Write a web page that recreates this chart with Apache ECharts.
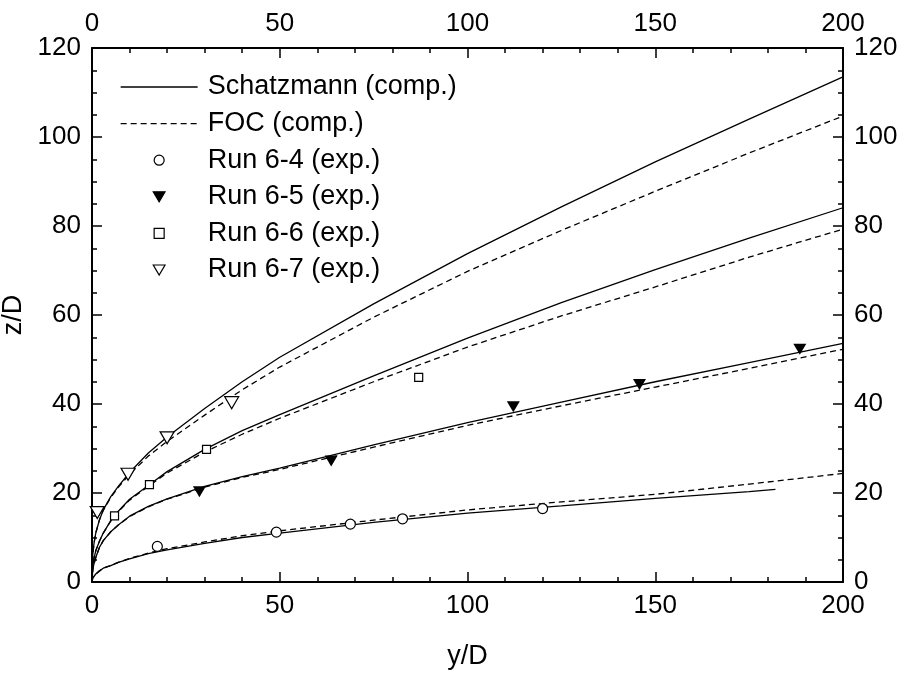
<!DOCTYPE html>
<html>
<head>
<meta charset="utf-8">
<script src="https://cdn.jsdelivr.net/npm/echarts@6/dist/echarts.min.js"></script>
<style>
html,body{margin:0;padding:0;background:#fff;}
#chart{width:906px;height:678px;}
</style>
</head>
<body>
<div id="chart"></div>
<script>
// x positions (y/D) where the computed curves were read
const curveX      = [0, 0.2, 0.5, 1, 2, 3, 5, 7, 10, 15, 20, 30, 40, 50, 75, 100, 125, 150, 175, 200];
const curveXShort = [0, 0.2, 0.5, 1, 2, 3, 5, 7, 10, 15, 20, 30, 40, 50, 75, 100, 125, 150, 175, 182];

// Schatzmann (comp.) curves, z/D
const schatz67 = [0, 6, 8.5, 11, 14, 16.2, 19.2, 21.5, 24.6, 29, 32.6, 39, 45, 50.5, 62.5, 73.8, 84.3, 94.4, 104, 113.5];
const schatz66 = [0, 3.7, 5.2, 7, 9.2, 11, 13.8, 15.9, 18.6, 21.7, 24.8, 29.8, 34, 37.6, 46.3, 54.8, 62.8, 70.2, 77.3, 84.1];
const schatz65 = [0, 2.8, 4, 5.5, 7.8, 9.3, 11.3, 12.8, 14.8, 17, 18.7, 21.5, 23.7, 25.6, 30.8, 35.8, 40.4, 45, 49.3, 53.6];
const schatz64 = [0, 0.9, 1.3, 1.8, 2.5, 3.1, 3.7, 4.4, 5.2, 6.4, 7.2, 8.7, 10, 11, 13.4, 15.5, 17.1, 18.8, 20.3, 20.8]; // uses curveXShort

// FOC (comp.) curves, z/D
const foc67 = [0, 6, 8.5, 11, 14, 16.1, 19, 21.3, 24.2, 28.3, 31.6, 37.5, 43.2, 48.3, 59.5, 69.8, 79, 87.8, 96.4, 104.7];
const foc66 = [0, 3.7, 5.2, 7, 9.2, 11, 13.7, 15.8, 18.4, 21.5, 24.5, 29.2, 33.2, 36.8, 45, 52.8, 59.8, 66.3, 73, 79.3];
const foc65 = [0, 2.8, 4, 5.5, 7.8, 9.3, 11.3, 12.8, 14.7, 16.9, 18.6, 21.3, 23.5, 25.3, 30.3, 35.2, 39.6, 43.8, 48, 52.3];
const foc64 = [0, 0.9, 1.3, 1.8, 2.5, 3.1, 3.7, 4.4, 5.3, 6.5, 7.5, 9, 10.4, 11.5, 13.9, 16.2, 18, 19.7, 22, 24.4];

// Experimental points
const run64X = [17.4, 49.1, 68.8, 82.7, 120.0];
const run64Y = [8.0, 11.2, 13.0, 14.2, 16.5];
const run65X = [28.6, 63.7, 112.2, 145.8, 188.5];
const run65Y = [20.3, 27.2, 39.4, 44.4, 52.3];
const run66X = [6.0, 15.3, 30.5, 87.0];
const run66Y = [14.85, 21.9, 29.8, 46.0];
const run67X = [1.4, 9.6, 20.0, 37.2];
const run67Y = [15.6, 24.2, 32.4, 40.3];

// Axis ticks
const xTicks = { min: 0, max: 200, interval: 50 };
const yTicks = { min: 0, max: 120, interval: 20 };

const FONT = "'Liberation Sans', Arial, sans-serif";
const pairs = (xs, ys) => xs.map((x, i) => [x, ys[i]]);
const downTri = 'path://M0,0L20,0L10,17Z';
const square = 'path://M0,0L10,0L10,10L0,10Z';

function mkAxis(base, extra) {
  return Object.assign({
    type: 'value',
    min: base.min, max: base.max, interval: base.interval,
    axisLine: { show: true, onZero: false, lineStyle: { color: '#000', width: 2 } },
    axisTick: { show: true, inside: true, length: 10, lineStyle: { color: '#000', width: 1.5 } },
    splitLine: { show: false },
    minorSplitLine: { show: false },
    axisLabel: { color: '#000', fontSize: 26, fontFamily: FONT, margin: 11 },
    nameTextStyle: { color: '#000', fontSize: 27, fontFamily: FONT }
  }, extra);
}
const minor = n => ({ show: true, splitNumber: n, length: 5, lineStyle: { color: '#000', width: 1.5 } });

const solidStyle = { color: '#000', width: 1.3, type: 'solid' };
const dashStyle = { color: '#000', width: 1.3, type: [6, 4] };

function curve(name, xs, ys, ls) {
  return {
    name: name, type: 'line', data: pairs(xs, ys),
    symbol: 'none', smooth: false,
    lineStyle: ls, itemStyle: { color: '#000' }, z: 2
  };
}

const option = {
  animation: false,
  backgroundColor: '#fff',
  textStyle: { fontFamily: FONT },
  grid: { left: 92, right: 63, top: 48, bottom: 96, containLabel: false, outerBoundsMode: 'none' },
  legend: {
    orient: 'vertical', left: 120, top: 73.5, padding: 0,
    itemWidth: 77, itemHeight: 10, itemGap: 9.6,
    textStyle: { color: '#000', fontSize: 27, fontFamily: FONT, lineHeight: 27, padding: [0, 0, 0, 5] },
    itemStyle: { borderWidth: 1.2 },
    lineStyle: { width: 1.3 },
    data: [
      { name: 'Schatzmann (comp.)', itemStyle: { opacity: 0 } },
      { name: 'FOC (comp.)', itemStyle: { opacity: 0 } },
      'Run 6-4 (exp.)', 'Run 6-5 (exp.)', 'Run 6-6 (exp.)', 'Run 6-7 (exp.)'
    ]
  },
  xAxis: [
    mkAxis(xTicks, { position: 'bottom', name: 'y/D', nameLocation: 'middle', nameGap: 61, minorTick: minor(5) }),
    mkAxis(xTicks, { position: 'top', minorTick: minor(5) })
  ],
  yAxis: [
    mkAxis(yTicks, { position: 'left', name: 'z/D', nameLocation: 'middle', nameGap: 56, minorTick: minor(4) }),
    mkAxis(yTicks, { position: 'right', minorTick: minor(4) })
  ],
  series: [
    curve('Schatzmann (comp.)', curveX, schatz67, solidStyle),
    curve('Schatzmann (comp.)', curveX, schatz66, solidStyle),
    curve('Schatzmann (comp.)', curveX, schatz65, solidStyle),
    curve('Schatzmann (comp.)', curveXShort, schatz64, solidStyle),
    curve('FOC (comp.)', curveX, foc67, dashStyle),
    curve('FOC (comp.)', curveX, foc66, dashStyle),
    curve('FOC (comp.)', curveX, foc65, dashStyle),
    curve('FOC (comp.)', curveX, foc64, dashStyle),
    { name: 'Run 6-4 (exp.)', type: 'scatter', data: pairs(run64X, run64Y), symbol: 'circle', symbolSize: 10,
      itemStyle: { color: '#fff', borderColor: '#000', borderWidth: 1.2, opacity: 1 }, z: 3 },
    { name: 'Run 6-5 (exp.)', type: 'scatter', data: pairs(run65X, run65Y), symbol: downTri, symbolSize: [13, 11],
      itemStyle: { color: '#000', borderColor: '#000', borderWidth: 0, opacity: 1 }, z: 3 },
    { name: 'Run 6-6 (exp.)', type: 'scatter', data: pairs(run66X, run66Y), symbol: square, symbolSize: 8,
      itemStyle: { color: '#fff', borderColor: '#000', borderWidth: 1.2, opacity: 1 }, z: 3 },
    { name: 'Run 6-7 (exp.)', type: 'scatter', data: pairs(run67X, run67Y), symbol: downTri, symbolSize: [14, 12],
      itemStyle: { color: '#fff', borderColor: '#000', borderWidth: 1.2, opacity: 1 }, z: 3 }
  ]
};

const chart = echarts.init(document.getElementById('chart'), null, { renderer: 'canvas' });
chart.setOption(option);
</script>
</body>
</html>
